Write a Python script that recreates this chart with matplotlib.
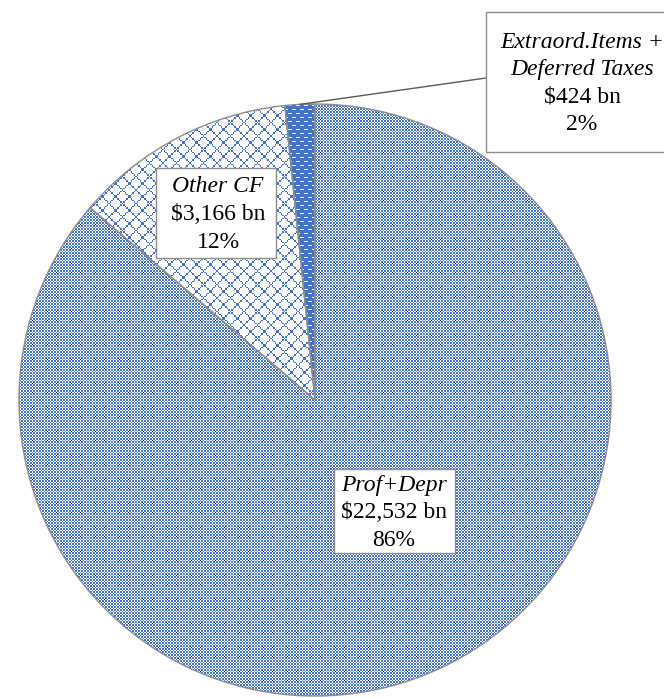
import numpy as np
import matplotlib.pyplot as plt
from matplotlib.patches import Rectangle

# cash flow sources, $ bn
labels = ['Prof+Depr', 'Other CF', 'Extraord.Items +\nDeferred Taxes']
values = [22532, 3166, 424]
value_text = ['$22,532 bn', '$3,166 bn', '$424 bn']
pct_text = ['86%', '12%', '2%']

W, H = 664, 698
blue = np.array([0x44, 0x72, 0xC4]) / 255.0
edge = '#8c8c8c'

fig = plt.figure(figsize=(W / 100, H / 100), dpi=100, facecolor='white')
ax = fig.add_axes([0, 0, 1, 1])
ax.set_facecolor('white')

cx, cy, r = 315, 400, 296
wedges, _ = ax.pie(values, center=(cx, cy), radius=r, startangle=-90,
                   counterclock=True,
                   wedgeprops=dict(facecolor='none', edgecolor=edge, linewidth=1.0))

# pixel fill patterns for each slice (pattern cells scaled ~1.5x)
yy, xx = np.mgrid[0:H, 0:W]
sx = np.floor(xx / 1.5).astype(int)
sy = np.floor(yy / 1.5).astype(int)
checker = (sx + sy) % 2 == 0
bx, by = sx // 1, sy // 1
diamond = ((bx + by) % 9 == 0) | ((bx - by) % 9 == 0)
dash = (yy % 4 == 1) & (((xx + ((yy // 4) % 2) * 4) % 8) < 4)
solid_dash = ~dash

def pattern_img(mask):
    img = np.ones((H, W, 3))
    img[mask] = blue
    return img

for w, mask in zip(wedges, [checker, diamond, solid_dash]):
    im = ax.imshow(pattern_img(mask), extent=(0, W, H, 0), origin='upper',
                   interpolation='nearest', aspect='auto', zorder=1)
    im.set_clip_path(w)
    w.set_zorder(2)

ax.set_xlim(0, W)
ax.set_ylim(H, 0)
ax.set_aspect('auto')
ax.axis('off')

# leader line to the small slice
w = wedges[2]
mid = np.deg2rad((w.theta1 + w.theta2) / 2)
ax.plot([486, cx + r * np.cos(mid)], [78, cy + r * np.sin(mid)],
        color='#595959', linewidth=1.0, zorder=3)

font = 'Liberation Serif'
fs = 17
boxes = [
    # x0, y0, x1, y1, text x, line ys
    (334, 469, 455, 553, 394, [485, 512, 540]),
    (156, 168, 276, 258, 218, [187, 214, 242]),
    (486, 12, 670, 152, 582, [42, 69, 97, 125]),
]
for i, (x0, y0, x1, y1, tx, ys) in enumerate(boxes):
    ax.add_patch(Rectangle((x0, y0), x1 - x0, y1 - y0, facecolor='white',
                           edgecolor=edge, linewidth=1.0, zorder=4))
    lines = labels[i].split('\n')
    styles = ['italic'] * len(lines) + ['normal', 'normal']
    for t, y, st in zip(lines + [value_text[i], pct_text[i]], ys, styles):
        ax.text(tx, y, t, ha='center', va='center', fontsize=fs,
                family=font, style=st, color='black', zorder=5)

fig.savefig('out.png', dpi=100, facecolor='white')
